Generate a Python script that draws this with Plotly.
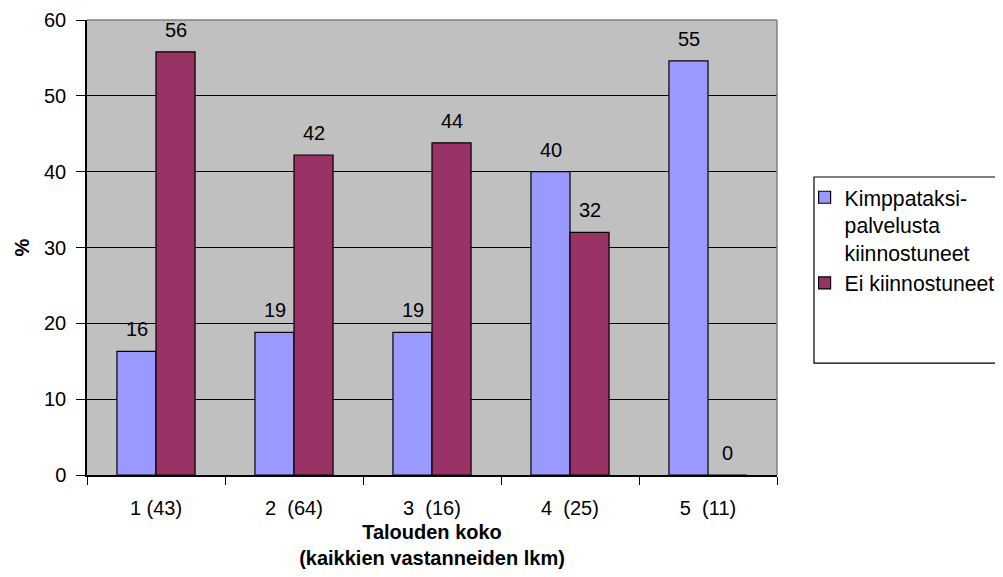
import plotly.graph_objects as go

categories = ["1 (43)", "2\u00a0 (64)", "3\u00a0 (16)", "4\u00a0 (25)", "5\u00a0 (11)"]
interested = [16.3, 18.8, 18.8, 40.0, 54.6]
not_interested = [55.8, 42.2, 43.8, 32.0, 0.0]
series_names = ["Kimppataksi-<br>palvelusta<br>kiinnostuneet", "Ei kiinnostuneet"]
y_ticks = [0, 10, 20, 30, 40, 50, 60]

FONT = "Arial, Liberation Sans, sans-serif"
BLUE = "#9999FF"
RED = "#993366"

fig = go.Figure()
fig.add_trace(go.Bar(x=categories, y=interested, name=series_names[0], legendgroup="a",
                     marker=dict(color=BLUE, line=dict(color="black", width=1.2))))
fig.add_trace(go.Bar(x=categories, y=not_interested, name=series_names[1], legendgroup="b",
                     marker=dict(color=RED, line=dict(color="black", width=1.2))))

annotations = []
for vals, shift in ((interested, -19.5), (not_interested, 19.5)):
    for c, v in zip(categories, vals):
        annotations.append(dict(x=c, y=v, xref="x", yref="y", text=str(int(round(v))),
                                showarrow=False, xshift=shift, yshift=22,
                                yanchor="middle", xanchor="center",
                                font=dict(family=FONT, size=20, color="black")))

# the page body has an 8px margin, so the figure is sized/offset to compensate
fig.update_layout(
    width=995, height=561,
    margin=dict(l=79, r=226, t=12, b=94, autoexpand=False),
    paper_bgcolor="white", plot_bgcolor="#C0C0C0",
    barmode="group", bargap=0.434, bargroupgap=0,
    font=dict(family=FONT, size=20, color="black"),
    showlegend=True,
    legend=dict(x=1.040, y=0.655, xanchor="left", yanchor="top",
                bgcolor="rgba(0,0,0,0)", borderwidth=0, valign="top",
                font=dict(family=FONT, size=21.2, color="black"),
                traceorder="normal", tracegroupgap=7),
    annotations=annotations,
    shapes=[
        dict(type="line", xref="paper", yref="paper", x0=0, x1=1, y0=1, y1=1,
             line=dict(color="#808080", width=1.5), layer="above"),
        dict(type="line", xref="paper", yref="paper", x0=1, x1=1, y0=0, y1=1,
             line=dict(color="#808080", width=1.5), layer="above"),
        dict(type="rect", xref="paper", yref="paper", x0=1.0536, x1=1.34, y0=0.246, y1=0.655,
             line=dict(color="black", width=1.2), fillcolor="rgba(0,0,0,0)", layer="above"),
    ],
)

fig.update_xaxes(
    type="category", showline=True, linecolor="black", linewidth=1.5,
    ticks="outside", ticklen=8, tickcolor="black", tickson="boundaries",
    ticklabelstandoff=14, showgrid=False, zeroline=False,
    title=dict(text="<b>Talouden koko<br>(kaikkien vastanneiden lkm)</b>",
               font=dict(family=FONT, size=20, color="black"), standoff=10),
)
fig.update_yaxes(
    range=[0, 60], tickvals=y_ticks, showline=True, linecolor="black", linewidth=1.5,
    ticks="outside", ticklen=9, tickcolor="black", ticklabelstandoff=6,
    showgrid=True, gridcolor="black", gridwidth=1, zeroline=False,
    title=dict(text="<b>%</b>", font=dict(family=FONT, size=20, color="black"), standoff=9),
)

fig.write_html("out.html")
